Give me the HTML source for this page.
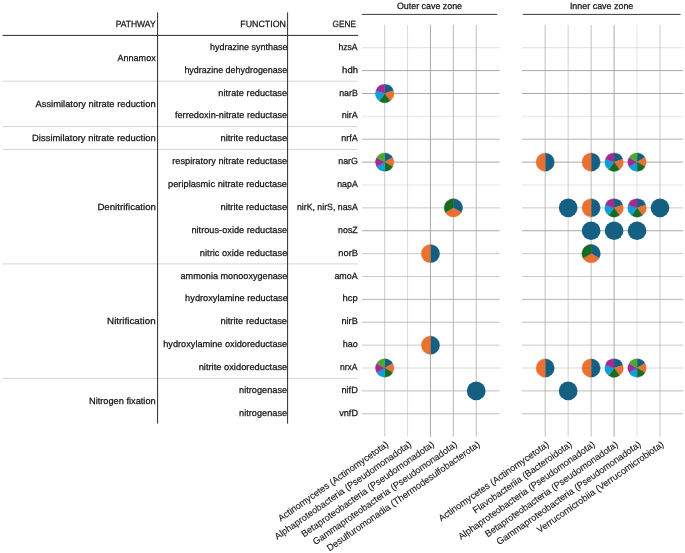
<!DOCTYPE html>
<html><head><meta charset="utf-8"><style>
html,body{margin:0;padding:0;background:#fff;}
body{width:685px;height:553px;overflow:hidden;}
svg{display:block;will-change:transform;}
text{font-family:"Liberation Sans",sans-serif;text-rendering:geometricPrecision;stroke:#141414;stroke-width:0.25px;}
</style></head><body>
<svg width="685" height="553" viewBox="0 0 685 553" font-family="Liberation Sans, sans-serif" fill="#141414">
<rect width="685" height="553" fill="#fff"/>
<line x1="362" y1="47.70" x2="499.6" y2="47.70" stroke="#a8a8a8" stroke-opacity="0.35" stroke-width="1"/>
<line x1="522" y1="47.70" x2="683" y2="47.70" stroke="#a8a8a8" stroke-opacity="0.35" stroke-width="1"/>
<line x1="362" y1="70.58" x2="499.6" y2="70.58" stroke="#a8a8a8" stroke-opacity="1.0" stroke-width="1"/>
<line x1="522" y1="70.58" x2="683" y2="70.58" stroke="#a8a8a8" stroke-opacity="1.0" stroke-width="1"/>
<line x1="362" y1="93.46" x2="499.6" y2="93.46" stroke="#a8a8a8" stroke-opacity="1.0" stroke-width="1"/>
<line x1="522" y1="93.46" x2="683" y2="93.46" stroke="#a8a8a8" stroke-opacity="1.0" stroke-width="1"/>
<line x1="362" y1="116.34" x2="499.6" y2="116.34" stroke="#a8a8a8" stroke-opacity="0.25" stroke-width="1"/>
<line x1="522" y1="116.34" x2="683" y2="116.34" stroke="#a8a8a8" stroke-opacity="0.25" stroke-width="1"/>
<line x1="362" y1="139.22" x2="499.6" y2="139.22" stroke="#a8a8a8" stroke-opacity="0.85" stroke-width="1"/>
<line x1="522" y1="139.22" x2="683" y2="139.22" stroke="#a8a8a8" stroke-opacity="0.85" stroke-width="1"/>
<line x1="362" y1="162.10" x2="499.6" y2="162.10" stroke="#a8a8a8" stroke-opacity="1.0" stroke-width="1"/>
<line x1="522" y1="162.10" x2="683" y2="162.10" stroke="#a8a8a8" stroke-opacity="1.0" stroke-width="1"/>
<line x1="362" y1="184.98" x2="499.6" y2="184.98" stroke="#a8a8a8" stroke-opacity="0.3" stroke-width="1"/>
<line x1="522" y1="184.98" x2="683" y2="184.98" stroke="#a8a8a8" stroke-opacity="0.3" stroke-width="1"/>
<line x1="362" y1="207.86" x2="499.6" y2="207.86" stroke="#a8a8a8" stroke-opacity="0.6" stroke-width="1"/>
<line x1="522" y1="207.86" x2="683" y2="207.86" stroke="#a8a8a8" stroke-opacity="0.6" stroke-width="1"/>
<line x1="362" y1="230.74" x2="499.6" y2="230.74" stroke="#a8a8a8" stroke-opacity="1.0" stroke-width="1"/>
<line x1="522" y1="230.74" x2="683" y2="230.74" stroke="#a8a8a8" stroke-opacity="1.0" stroke-width="1"/>
<line x1="362" y1="253.62" x2="499.6" y2="253.62" stroke="#a8a8a8" stroke-opacity="0.6" stroke-width="1"/>
<line x1="522" y1="253.62" x2="683" y2="253.62" stroke="#a8a8a8" stroke-opacity="0.6" stroke-width="1"/>
<line x1="362" y1="276.50" x2="499.6" y2="276.50" stroke="#a8a8a8" stroke-opacity="0.6" stroke-width="1"/>
<line x1="522" y1="276.50" x2="683" y2="276.50" stroke="#a8a8a8" stroke-opacity="0.6" stroke-width="1"/>
<line x1="362" y1="299.38" x2="499.6" y2="299.38" stroke="#a8a8a8" stroke-opacity="0.85" stroke-width="1"/>
<line x1="522" y1="299.38" x2="683" y2="299.38" stroke="#a8a8a8" stroke-opacity="0.85" stroke-width="1"/>
<line x1="362" y1="322.26" x2="499.6" y2="322.26" stroke="#a8a8a8" stroke-opacity="0.75" stroke-width="1"/>
<line x1="522" y1="322.26" x2="683" y2="322.26" stroke="#a8a8a8" stroke-opacity="0.75" stroke-width="1"/>
<line x1="362" y1="345.14" x2="499.6" y2="345.14" stroke="#a8a8a8" stroke-opacity="0.6" stroke-width="1"/>
<line x1="522" y1="345.14" x2="683" y2="345.14" stroke="#a8a8a8" stroke-opacity="0.6" stroke-width="1"/>
<line x1="362" y1="368.02" x2="499.6" y2="368.02" stroke="#a8a8a8" stroke-opacity="0.45" stroke-width="1"/>
<line x1="522" y1="368.02" x2="683" y2="368.02" stroke="#a8a8a8" stroke-opacity="0.45" stroke-width="1"/>
<line x1="362" y1="390.90" x2="499.6" y2="390.90" stroke="#a8a8a8" stroke-opacity="0.75" stroke-width="1"/>
<line x1="522" y1="390.90" x2="683" y2="390.90" stroke="#a8a8a8" stroke-opacity="0.75" stroke-width="1"/>
<line x1="362" y1="413.78" x2="499.6" y2="413.78" stroke="#a8a8a8" stroke-opacity="0.75" stroke-width="1"/>
<line x1="522" y1="413.78" x2="683" y2="413.78" stroke="#a8a8a8" stroke-opacity="0.75" stroke-width="1"/>
<line x1="384.70" y1="24.9" x2="384.70" y2="436.7" stroke="#a8a8a8" stroke-opacity="0.6" stroke-width="1"/>
<line x1="407.57" y1="24.9" x2="407.57" y2="436.7" stroke="#a8a8a8" stroke-opacity="0.4" stroke-width="1"/>
<line x1="430.45" y1="24.9" x2="430.45" y2="436.7" stroke="#a8a8a8" stroke-opacity="1.0" stroke-width="1"/>
<line x1="453.32" y1="24.9" x2="453.32" y2="436.7" stroke="#a8a8a8" stroke-opacity="0.8" stroke-width="1"/>
<line x1="476.20" y1="24.9" x2="476.20" y2="436.7" stroke="#a8a8a8" stroke-opacity="0.75" stroke-width="1"/>
<line x1="545.20" y1="24.9" x2="545.20" y2="436.7" stroke="#a8a8a8" stroke-opacity="0.75" stroke-width="1"/>
<line x1="568.16" y1="24.9" x2="568.16" y2="436.7" stroke="#a8a8a8" stroke-opacity="0.5" stroke-width="1"/>
<line x1="591.12" y1="24.9" x2="591.12" y2="436.7" stroke="#a8a8a8" stroke-opacity="0.75" stroke-width="1"/>
<line x1="614.08" y1="24.9" x2="614.08" y2="436.7" stroke="#a8a8a8" stroke-opacity="0.95" stroke-width="1"/>
<line x1="637.04" y1="24.9" x2="637.04" y2="436.7" stroke="#a8a8a8" stroke-opacity="0.3" stroke-width="1"/>
<line x1="660.00" y1="24.9" x2="660.00" y2="436.7" stroke="#a8a8a8" stroke-opacity="0.6" stroke-width="1"/>
<line x1="2.6" y1="81.2" x2="357.8" y2="81.2" stroke="#d4d4d4" stroke-width="1"/>
<line x1="2.6" y1="126.6" x2="357.8" y2="126.6" stroke="#d4d4d4" stroke-width="1"/>
<line x1="2.6" y1="149.4" x2="357.8" y2="149.4" stroke="#d4d4d4" stroke-width="1"/>
<line x1="2.6" y1="263.9" x2="357.8" y2="263.9" stroke="#d4d4d4" stroke-width="1"/>
<line x1="2.6" y1="378.4" x2="357.8" y2="378.4" stroke="#d4d4d4" stroke-width="1"/>
<line x1="2.6" y1="35.4" x2="358.1" y2="35.4" stroke="#2a2a2a" stroke-width="1"/>
<line x1="157.6" y1="12.4" x2="157.6" y2="423.6" stroke="#2a2a2a" stroke-width="1"/>
<line x1="287.6" y1="12.4" x2="287.6" y2="423.6" stroke="#2a2a2a" stroke-width="1"/>
<line x1="362" y1="14.4" x2="497.2" y2="14.4" stroke="#3a3a3a" stroke-width="1"/>
<line x1="522.8" y1="14.4" x2="680.6" y2="14.4" stroke="#3a3a3a" stroke-width="1"/>
<text id="h_path" x="155.59" y="26.80" font-size="9.1" text-anchor="end" textLength="39.94" lengthAdjust="spacingAndGlyphs">PATHWAY</text>
<text id="h_func" x="285.89" y="26.80" font-size="9.1" text-anchor="end" textLength="45.59" lengthAdjust="spacingAndGlyphs">FUNCTION</text>
<text id="h_gene" x="355.96" y="26.80" font-size="9.1" text-anchor="end" textLength="23.38" lengthAdjust="spacingAndGlyphs">GENE</text>
<text id="z_out" x="462.05" y="8.80" font-size="9.1" text-anchor="end" textLength="65.13" lengthAdjust="spacingAndGlyphs">Outer cave zone</text>
<text id="z_in" x="633.35" y="8.80" font-size="9.1" text-anchor="end" textLength="63.45" lengthAdjust="spacingAndGlyphs">Inner cave zone</text>
<text id="f0" x="287.50" y="49.80" font-size="9.1" text-anchor="end" textLength="77.49" lengthAdjust="spacingAndGlyphs">hydrazine synthase</text>
<text id="f1" x="287.21" y="72.68" font-size="9.1" text-anchor="end" textLength="102.79" lengthAdjust="spacingAndGlyphs">hydrazine dehydrogenase</text>
<text id="f2" x="287.15" y="95.56" font-size="9.1" text-anchor="end" textLength="68.85" lengthAdjust="spacingAndGlyphs">nitrate reductase</text>
<text id="f3" x="287.19" y="118.44" font-size="9.1" text-anchor="end" textLength="112.23" lengthAdjust="spacingAndGlyphs">ferredoxin-nitrate reductase</text>
<text id="f4" x="287.13" y="141.32" font-size="9.1" text-anchor="end" textLength="66.66" lengthAdjust="spacingAndGlyphs">nitrite reductase</text>
<text id="f5" x="287.14" y="164.20" font-size="9.1" text-anchor="end" textLength="114.87" lengthAdjust="spacingAndGlyphs">respiratory nitrate reductase</text>
<text id="f6" x="287.05" y="187.08" font-size="9.1" text-anchor="end" textLength="119.02" lengthAdjust="spacingAndGlyphs">periplasmic nitrate reductase</text>
<text id="f7" x="287.13" y="209.96" font-size="9.1" text-anchor="end" textLength="66.66" lengthAdjust="spacingAndGlyphs">nitrite reductase</text>
<text id="f8" x="287.24" y="232.84" font-size="9.1" text-anchor="end" textLength="95.83" lengthAdjust="spacingAndGlyphs">nitrous-oxide reductase</text>
<text id="f9" x="287.28" y="255.72" font-size="9.1" text-anchor="end" textLength="87.42" lengthAdjust="spacingAndGlyphs">nitric oxide reductase</text>
<text id="f10" x="287.42" y="278.60" font-size="9.1" text-anchor="end" textLength="106.92" lengthAdjust="spacingAndGlyphs">ammonia monooxygenase</text>
<text id="f11" x="287.81" y="301.48" font-size="9.1" text-anchor="end" textLength="102.67" lengthAdjust="spacingAndGlyphs">hydroxylamine reductase</text>
<text id="f12" x="287.05" y="324.36" font-size="9.1" text-anchor="end" textLength="66.62" lengthAdjust="spacingAndGlyphs">nitrite reductase</text>
<text id="f13" x="287.23" y="347.24" font-size="9.1" text-anchor="end" textLength="123.96" lengthAdjust="spacingAndGlyphs">hydroxylamine oxidoreductase</text>
<text id="f14" x="287.25" y="370.12" font-size="9.1" text-anchor="end" textLength="88.59" lengthAdjust="spacingAndGlyphs">nitrite oxidoreductase</text>
<text id="f15" x="287.08" y="393.00" font-size="9.1" text-anchor="end" textLength="47.95" lengthAdjust="spacingAndGlyphs">nitrogenase</text>
<text id="f16" x="287.08" y="415.88" font-size="9.1" text-anchor="end" textLength="47.95" lengthAdjust="spacingAndGlyphs">nitrogenase</text>
<text id="g0" x="357.54" y="49.80" font-size="9.1" text-anchor="end" textLength="19.14" lengthAdjust="spacingAndGlyphs">hzsA</text>
<text id="g1" x="358.09" y="72.68" font-size="9.1" text-anchor="end" textLength="15.97" lengthAdjust="spacingAndGlyphs">hdh</text>
<text id="g2" x="357.90" y="95.56" font-size="9.1" text-anchor="end" textLength="18.74" lengthAdjust="spacingAndGlyphs">narB</text>
<text id="g3" x="357.79" y="118.44" font-size="9.1" text-anchor="end" textLength="16.15" lengthAdjust="spacingAndGlyphs">nirA</text>
<text id="g4" x="357.82" y="141.32" font-size="9.1" text-anchor="end" textLength="16.45" lengthAdjust="spacingAndGlyphs">nrfA</text>
<text id="g5" x="357.94" y="164.20" font-size="9.1" text-anchor="end" textLength="19.75" lengthAdjust="spacingAndGlyphs">narG</text>
<text id="g6" x="357.76" y="187.08" font-size="9.1" text-anchor="end" textLength="20.52" lengthAdjust="spacingAndGlyphs">napA</text>
<text id="g7" x="357.74" y="209.96" font-size="9.1" text-anchor="end" textLength="60.79" lengthAdjust="spacingAndGlyphs">nirK, nirS, nasA</text>
<text id="g8" x="357.78" y="232.84" font-size="9.1" text-anchor="end" textLength="19.69" lengthAdjust="spacingAndGlyphs">nosZ</text>
<text id="g9" x="358.00" y="255.72" font-size="9.1" text-anchor="end" textLength="19.65" lengthAdjust="spacingAndGlyphs">norB</text>
<text id="g10" x="357.62" y="278.60" font-size="9.1" text-anchor="end" textLength="23.21" lengthAdjust="spacingAndGlyphs">amoA</text>
<text id="g11" x="357.76" y="301.48" font-size="9.1" text-anchor="end" textLength="15.28" lengthAdjust="spacingAndGlyphs">hcp</text>
<text id="g12" x="357.83" y="324.36" font-size="9.1" text-anchor="end" textLength="16.41" lengthAdjust="spacingAndGlyphs">nirB</text>
<text id="g13" x="357.76" y="347.24" font-size="9.1" text-anchor="end" textLength="15.07" lengthAdjust="spacingAndGlyphs">hao</text>
<text id="g14" x="357.54" y="370.12" font-size="9.1" text-anchor="end" textLength="17.59" lengthAdjust="spacingAndGlyphs">nrxA</text>
<text id="g15" x="357.82" y="393.00" font-size="9.1" text-anchor="end" textLength="16.41" lengthAdjust="spacingAndGlyphs">nifD</text>
<text id="g16" x="358.01" y="415.88" font-size="9.1" text-anchor="end" textLength="18.85" lengthAdjust="spacingAndGlyphs">vnfD</text>
<text id="p0" x="155.73" y="61.24" font-size="9.1" text-anchor="end" textLength="38.32" lengthAdjust="spacingAndGlyphs">Annamox</text>
<text id="p1" x="155.61" y="107.00" font-size="9.1" text-anchor="end" textLength="120.07" lengthAdjust="spacingAndGlyphs">Assimilatory nitrate reduction</text>
<text id="p2" x="155.80" y="141.32" font-size="9.1" text-anchor="end" textLength="123.75" lengthAdjust="spacingAndGlyphs">Dissimilatory nitrate reduction</text>
<text id="p3" x="155.95" y="209.96" font-size="9.1" text-anchor="end" textLength="58.55" lengthAdjust="spacingAndGlyphs">Denitrification</text>
<text id="p4" x="155.66" y="324.36" font-size="9.1" text-anchor="end" textLength="48.54" lengthAdjust="spacingAndGlyphs">Nitrification</text>
<text id="p5" x="155.70" y="404.44" font-size="9.1" text-anchor="end" textLength="66.73" lengthAdjust="spacingAndGlyphs">Nitrogen fixation</text>
<path d="M384.70,93.46L384.70,84.26A9.2,9.2 0 0 1 393.45,90.62Z" fill="#156082" stroke="#156082" stroke-width="0.3" stroke-linejoin="round"/>
<path d="M384.70,93.46L393.45,90.62A9.2,9.2 0 0 1 390.11,100.90Z" fill="#E97132" stroke="#E97132" stroke-width="0.3" stroke-linejoin="round"/>
<path d="M384.70,93.46L390.11,100.90A9.2,9.2 0 0 1 379.29,100.90Z" fill="#196B24" stroke="#196B24" stroke-width="0.3" stroke-linejoin="round"/>
<path d="M384.70,93.46L379.29,100.90A9.2,9.2 0 0 1 375.95,90.62Z" fill="#0F9ED5" stroke="#0F9ED5" stroke-width="0.3" stroke-linejoin="round"/>
<path d="M384.70,93.46L375.95,90.62A9.2,9.2 0 0 1 384.70,84.26Z" fill="#A02B93" stroke="#A02B93" stroke-width="0.3" stroke-linejoin="round"/>
<path d="M384.70,162.10L384.70,152.90A9.2,9.2 0 0 1 392.67,157.50Z" fill="#156082" stroke="#156082" stroke-width="0.3" stroke-linejoin="round"/>
<path d="M384.70,162.10L392.67,157.50A9.2,9.2 0 0 1 392.67,166.70Z" fill="#E97132" stroke="#E97132" stroke-width="0.3" stroke-linejoin="round"/>
<path d="M384.70,162.10L392.67,166.70A9.2,9.2 0 0 1 384.70,171.30Z" fill="#196B24" stroke="#196B24" stroke-width="0.3" stroke-linejoin="round"/>
<path d="M384.70,162.10L384.70,171.30A9.2,9.2 0 0 1 376.73,166.70Z" fill="#0F9ED5" stroke="#0F9ED5" stroke-width="0.3" stroke-linejoin="round"/>
<path d="M384.70,162.10L376.73,166.70A9.2,9.2 0 0 1 376.73,157.50Z" fill="#A02B93" stroke="#A02B93" stroke-width="0.3" stroke-linejoin="round"/>
<path d="M384.70,162.10L376.73,157.50A9.2,9.2 0 0 1 384.70,152.90Z" fill="#4EA72E" stroke="#4EA72E" stroke-width="0.3" stroke-linejoin="round"/>
<path d="M384.70,368.02L384.70,358.82A9.2,9.2 0 0 1 392.67,363.42Z" fill="#156082" stroke="#156082" stroke-width="0.3" stroke-linejoin="round"/>
<path d="M384.70,368.02L392.67,363.42A9.2,9.2 0 0 1 392.67,372.62Z" fill="#E97132" stroke="#E97132" stroke-width="0.3" stroke-linejoin="round"/>
<path d="M384.70,368.02L392.67,372.62A9.2,9.2 0 0 1 384.70,377.22Z" fill="#196B24" stroke="#196B24" stroke-width="0.3" stroke-linejoin="round"/>
<path d="M384.70,368.02L384.70,377.22A9.2,9.2 0 0 1 376.73,372.62Z" fill="#0F9ED5" stroke="#0F9ED5" stroke-width="0.3" stroke-linejoin="round"/>
<path d="M384.70,368.02L376.73,372.62A9.2,9.2 0 0 1 376.73,363.42Z" fill="#A02B93" stroke="#A02B93" stroke-width="0.3" stroke-linejoin="round"/>
<path d="M384.70,368.02L376.73,363.42A9.2,9.2 0 0 1 384.70,358.82Z" fill="#4EA72E" stroke="#4EA72E" stroke-width="0.3" stroke-linejoin="round"/>
<path d="M430.45,253.62L430.45,244.42A9.2,9.2 0 0 1 430.45,262.82Z" fill="#156082" stroke="#156082" stroke-width="0.3" stroke-linejoin="round"/>
<path d="M430.45,253.62L430.45,262.82A9.2,9.2 0 0 1 430.45,244.42Z" fill="#E97132" stroke="#E97132" stroke-width="0.3" stroke-linejoin="round"/>
<path d="M430.45,345.14L430.45,335.94A9.2,9.2 0 0 1 430.45,354.34Z" fill="#156082" stroke="#156082" stroke-width="0.3" stroke-linejoin="round"/>
<path d="M430.45,345.14L430.45,354.34A9.2,9.2 0 0 1 430.45,335.94Z" fill="#E97132" stroke="#E97132" stroke-width="0.3" stroke-linejoin="round"/>
<path d="M453.32,207.86L453.32,198.66A9.2,9.2 0 0 1 461.29,212.46Z" fill="#156082" stroke="#156082" stroke-width="0.3" stroke-linejoin="round"/>
<path d="M453.32,207.86L461.29,212.46A9.2,9.2 0 0 1 445.36,212.46Z" fill="#E97132" stroke="#E97132" stroke-width="0.3" stroke-linejoin="round"/>
<path d="M453.32,207.86L445.36,212.46A9.2,9.2 0 0 1 453.32,198.66Z" fill="#196B24" stroke="#196B24" stroke-width="0.3" stroke-linejoin="round"/>
<circle cx="476.20" cy="390.90" r="9.35" fill="#156082"/>
<path d="M545.20,162.10L545.20,152.90A9.2,9.2 0 0 1 545.20,171.30Z" fill="#156082" stroke="#156082" stroke-width="0.3" stroke-linejoin="round"/>
<path d="M545.20,162.10L545.20,171.30A9.2,9.2 0 0 1 545.20,152.90Z" fill="#E97132" stroke="#E97132" stroke-width="0.3" stroke-linejoin="round"/>
<path d="M591.12,162.10L591.12,152.90A9.2,9.2 0 0 1 591.12,171.30Z" fill="#156082" stroke="#156082" stroke-width="0.3" stroke-linejoin="round"/>
<path d="M591.12,162.10L591.12,171.30A9.2,9.2 0 0 1 591.12,152.90Z" fill="#E97132" stroke="#E97132" stroke-width="0.3" stroke-linejoin="round"/>
<path d="M614.08,162.10L614.08,152.90A9.2,9.2 0 0 1 622.83,159.26Z" fill="#156082" stroke="#156082" stroke-width="0.3" stroke-linejoin="round"/>
<path d="M614.08,162.10L622.83,159.26A9.2,9.2 0 0 1 619.49,169.54Z" fill="#E97132" stroke="#E97132" stroke-width="0.3" stroke-linejoin="round"/>
<path d="M614.08,162.10L619.49,169.54A9.2,9.2 0 0 1 608.67,169.54Z" fill="#196B24" stroke="#196B24" stroke-width="0.3" stroke-linejoin="round"/>
<path d="M614.08,162.10L608.67,169.54A9.2,9.2 0 0 1 605.33,159.26Z" fill="#0F9ED5" stroke="#0F9ED5" stroke-width="0.3" stroke-linejoin="round"/>
<path d="M614.08,162.10L605.33,159.26A9.2,9.2 0 0 1 614.08,152.90Z" fill="#A02B93" stroke="#A02B93" stroke-width="0.3" stroke-linejoin="round"/>
<path d="M637.04,162.10L637.04,152.90A9.2,9.2 0 0 1 645.01,157.50Z" fill="#156082" stroke="#156082" stroke-width="0.3" stroke-linejoin="round"/>
<path d="M637.04,162.10L645.01,157.50A9.2,9.2 0 0 1 645.01,166.70Z" fill="#E97132" stroke="#E97132" stroke-width="0.3" stroke-linejoin="round"/>
<path d="M637.04,162.10L645.01,166.70A9.2,9.2 0 0 1 637.04,171.30Z" fill="#196B24" stroke="#196B24" stroke-width="0.3" stroke-linejoin="round"/>
<path d="M637.04,162.10L637.04,171.30A9.2,9.2 0 0 1 629.07,166.70Z" fill="#0F9ED5" stroke="#0F9ED5" stroke-width="0.3" stroke-linejoin="round"/>
<path d="M637.04,162.10L629.07,166.70A9.2,9.2 0 0 1 629.07,157.50Z" fill="#A02B93" stroke="#A02B93" stroke-width="0.3" stroke-linejoin="round"/>
<path d="M637.04,162.10L629.07,157.50A9.2,9.2 0 0 1 637.04,152.90Z" fill="#4EA72E" stroke="#4EA72E" stroke-width="0.3" stroke-linejoin="round"/>
<circle cx="568.16" cy="207.86" r="9.35" fill="#156082"/>
<path d="M591.12,207.86L591.12,198.66A9.2,9.2 0 0 1 591.12,217.06Z" fill="#156082" stroke="#156082" stroke-width="0.3" stroke-linejoin="round"/>
<path d="M591.12,207.86L591.12,217.06A9.2,9.2 0 0 1 591.12,198.66Z" fill="#E97132" stroke="#E97132" stroke-width="0.3" stroke-linejoin="round"/>
<path d="M614.08,207.86L614.08,198.66A9.2,9.2 0 0 1 622.83,205.02Z" fill="#156082" stroke="#156082" stroke-width="0.3" stroke-linejoin="round"/>
<path d="M614.08,207.86L622.83,205.02A9.2,9.2 0 0 1 619.49,215.30Z" fill="#E97132" stroke="#E97132" stroke-width="0.3" stroke-linejoin="round"/>
<path d="M614.08,207.86L619.49,215.30A9.2,9.2 0 0 1 608.67,215.30Z" fill="#196B24" stroke="#196B24" stroke-width="0.3" stroke-linejoin="round"/>
<path d="M614.08,207.86L608.67,215.30A9.2,9.2 0 0 1 605.33,205.02Z" fill="#0F9ED5" stroke="#0F9ED5" stroke-width="0.3" stroke-linejoin="round"/>
<path d="M614.08,207.86L605.33,205.02A9.2,9.2 0 0 1 614.08,198.66Z" fill="#A02B93" stroke="#A02B93" stroke-width="0.3" stroke-linejoin="round"/>
<path d="M637.04,207.86L637.04,198.66A9.2,9.2 0 0 1 645.79,205.02Z" fill="#156082" stroke="#156082" stroke-width="0.3" stroke-linejoin="round"/>
<path d="M637.04,207.86L645.79,205.02A9.2,9.2 0 0 1 642.45,215.30Z" fill="#E97132" stroke="#E97132" stroke-width="0.3" stroke-linejoin="round"/>
<path d="M637.04,207.86L642.45,215.30A9.2,9.2 0 0 1 631.63,215.30Z" fill="#196B24" stroke="#196B24" stroke-width="0.3" stroke-linejoin="round"/>
<path d="M637.04,207.86L631.63,215.30A9.2,9.2 0 0 1 628.29,205.02Z" fill="#0F9ED5" stroke="#0F9ED5" stroke-width="0.3" stroke-linejoin="round"/>
<path d="M637.04,207.86L628.29,205.02A9.2,9.2 0 0 1 637.04,198.66Z" fill="#A02B93" stroke="#A02B93" stroke-width="0.3" stroke-linejoin="round"/>
<circle cx="660.00" cy="207.86" r="9.35" fill="#156082"/>
<circle cx="591.12" cy="230.74" r="9.35" fill="#156082"/>
<circle cx="614.08" cy="230.74" r="9.35" fill="#156082"/>
<circle cx="637.04" cy="230.74" r="9.35" fill="#156082"/>
<path d="M591.12,253.62L591.12,244.42A9.2,9.2 0 0 1 599.09,258.22Z" fill="#156082" stroke="#156082" stroke-width="0.3" stroke-linejoin="round"/>
<path d="M591.12,253.62L599.09,258.22A9.2,9.2 0 0 1 583.15,258.22Z" fill="#E97132" stroke="#E97132" stroke-width="0.3" stroke-linejoin="round"/>
<path d="M591.12,253.62L583.15,258.22A9.2,9.2 0 0 1 591.12,244.42Z" fill="#196B24" stroke="#196B24" stroke-width="0.3" stroke-linejoin="round"/>
<path d="M545.20,368.02L545.20,358.82A9.2,9.2 0 0 1 545.20,377.22Z" fill="#156082" stroke="#156082" stroke-width="0.3" stroke-linejoin="round"/>
<path d="M545.20,368.02L545.20,377.22A9.2,9.2 0 0 1 545.20,358.82Z" fill="#E97132" stroke="#E97132" stroke-width="0.3" stroke-linejoin="round"/>
<path d="M591.12,368.02L591.12,358.82A9.2,9.2 0 0 1 591.12,377.22Z" fill="#156082" stroke="#156082" stroke-width="0.3" stroke-linejoin="round"/>
<path d="M591.12,368.02L591.12,377.22A9.2,9.2 0 0 1 591.12,358.82Z" fill="#E97132" stroke="#E97132" stroke-width="0.3" stroke-linejoin="round"/>
<path d="M614.08,368.02L614.08,358.82A9.2,9.2 0 0 1 622.83,365.18Z" fill="#156082" stroke="#156082" stroke-width="0.3" stroke-linejoin="round"/>
<path d="M614.08,368.02L622.83,365.18A9.2,9.2 0 0 1 619.49,375.46Z" fill="#E97132" stroke="#E97132" stroke-width="0.3" stroke-linejoin="round"/>
<path d="M614.08,368.02L619.49,375.46A9.2,9.2 0 0 1 608.67,375.46Z" fill="#196B24" stroke="#196B24" stroke-width="0.3" stroke-linejoin="round"/>
<path d="M614.08,368.02L608.67,375.46A9.2,9.2 0 0 1 605.33,365.18Z" fill="#0F9ED5" stroke="#0F9ED5" stroke-width="0.3" stroke-linejoin="round"/>
<path d="M614.08,368.02L605.33,365.18A9.2,9.2 0 0 1 614.08,358.82Z" fill="#A02B93" stroke="#A02B93" stroke-width="0.3" stroke-linejoin="round"/>
<path d="M637.04,368.02L637.04,358.82A9.2,9.2 0 0 1 645.01,363.42Z" fill="#156082" stroke="#156082" stroke-width="0.3" stroke-linejoin="round"/>
<path d="M637.04,368.02L645.01,363.42A9.2,9.2 0 0 1 645.01,372.62Z" fill="#E97132" stroke="#E97132" stroke-width="0.3" stroke-linejoin="round"/>
<path d="M637.04,368.02L645.01,372.62A9.2,9.2 0 0 1 637.04,377.22Z" fill="#196B24" stroke="#196B24" stroke-width="0.3" stroke-linejoin="round"/>
<path d="M637.04,368.02L637.04,377.22A9.2,9.2 0 0 1 629.07,372.62Z" fill="#0F9ED5" stroke="#0F9ED5" stroke-width="0.3" stroke-linejoin="round"/>
<path d="M637.04,368.02L629.07,372.62A9.2,9.2 0 0 1 629.07,363.42Z" fill="#A02B93" stroke="#A02B93" stroke-width="0.3" stroke-linejoin="round"/>
<path d="M637.04,368.02L629.07,363.42A9.2,9.2 0 0 1 637.04,358.82Z" fill="#4EA72E" stroke="#4EA72E" stroke-width="0.3" stroke-linejoin="round"/>
<circle cx="568.16" cy="390.90" r="9.35" fill="#156082"/>
<text id="lo0" x="0" y="0" font-size="9.27" text-anchor="end" style="stroke-width:0.12px" transform="translate(389.10,445.80) rotate(-35)">Actinomycetes (Actinomycetota)</text>
<text id="lo1" x="0" y="0" font-size="9.27" text-anchor="end" style="stroke-width:0.12px" transform="translate(411.97,445.80) rotate(-35)">Alphaproteobacteria (Pseudomonadota)</text>
<text id="lo2" x="0" y="0" font-size="9.27" text-anchor="end" style="stroke-width:0.12px" transform="translate(434.85,445.80) rotate(-35)">Betaproteobacteria (Pseudomonadota)</text>
<text id="lo3" x="0" y="0" font-size="9.27" text-anchor="end" style="stroke-width:0.12px" transform="translate(457.72,445.80) rotate(-35)">Gammaproteobacteria (Pseudomonadota)</text>
<text id="lo4" x="0" y="0" font-size="9.27" text-anchor="end" style="stroke-width:0.12px" transform="translate(480.60,445.80) rotate(-35)">Desulfuromonadia (Thermodesulfobacterota)</text>
<text id="li0" x="0" y="0" font-size="9.27" text-anchor="end" style="stroke-width:0.12px" transform="translate(549.60,445.80) rotate(-35)">Actinomycetes (Actinomycetota)</text>
<text id="li1" x="0" y="0" font-size="9.27" text-anchor="end" style="stroke-width:0.12px" transform="translate(572.56,445.80) rotate(-35)">Flavobacteriia (Bacteroidota)</text>
<text id="li2" x="0" y="0" font-size="9.27" text-anchor="end" style="stroke-width:0.12px" transform="translate(595.52,445.80) rotate(-35)">Alphaproteobacteria (Pseudomonadota)</text>
<text id="li3" x="0" y="0" font-size="9.27" text-anchor="end" style="stroke-width:0.12px" transform="translate(618.48,445.80) rotate(-35)">Betaproteobacteria (Pseudomonadota)</text>
<text id="li4" x="0" y="0" font-size="9.27" text-anchor="end" style="stroke-width:0.12px" transform="translate(641.44,445.80) rotate(-35)">Gammaproteobacteria (Pseudomonadota)</text>
<text id="li5" x="0" y="0" font-size="9.27" text-anchor="end" style="stroke-width:0.12px" transform="translate(664.40,445.80) rotate(-35)">Verrucomicrobiia (Verrucomicrobiota)</text>
</svg>
</body></html>
